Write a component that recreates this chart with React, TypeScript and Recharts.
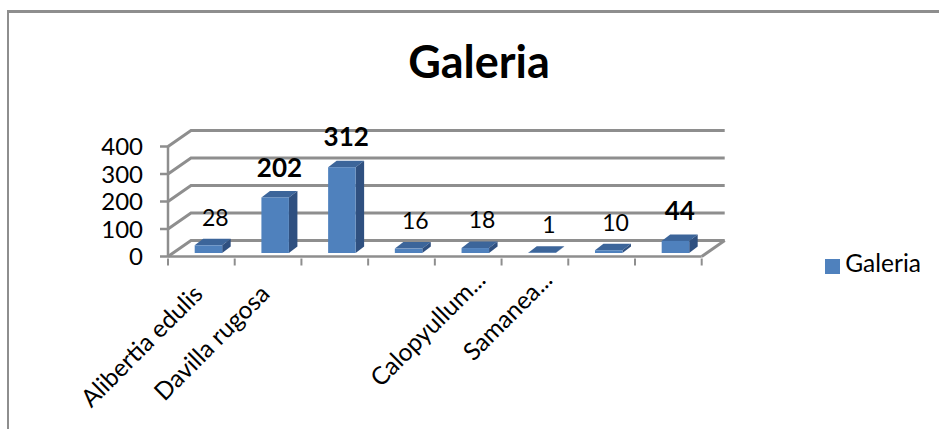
import React from "react";
import { BarChart, Bar, XAxis, YAxis, CartesianGrid, Legend, LabelList } from "recharts";

const categories = ["Alibertia edulis", "Davilla rugosa", "", "", "Calopyullum...", "Samanea...", "", ""];
const values = [28, 202, 312, 16, 18, 1, 10, 44];
const boldValues = [202, 312, 44];
const yTicks = [0, 100, 200, 300, 400];

const chartData = categories.map((name, i) => ({ name, Galeria: values[i] }));

const FONT = "Lato, sans-serif";
const GRID = "#8e8e8e";
const BLUE = "#4f81bd";
const BLUE_TOP = "#3c659a";
const BLUE_SIDE = "#2f5080";

// depth of the floor and walls
const WALL_DX = 23;
const WALL_DY = 16;
// bars stand in the middle of the floor, and have their own depth
const BAR_DX = 6.7;
const BAR_DY = 3.5;
const BOX_DX = 8.5;
const BOX_DY = 6.5;

function WallLine(props: any) {
  const { x1, x2, y1 } = props;
  const isFloor = Math.abs(y1 - 256.5) < 1;
  return (
    <g key={`wall-${y1}`} fill="none" stroke={GRID} strokeWidth={3}>
      <polyline points={`${x1},${y1} ${x1 + WALL_DX},${y1 - WALL_DY} ${x2 + WALL_DX},${y1 - WALL_DY}`} />
      {isFloor && <line x1={x2} y1={y1} x2={x2 + WALL_DX} y2={y1 - WALL_DY} />}
    </g>
  );
}

function Box(props: any) {
  const { x, y, width, height } = props;
  const left = x + BAR_DX;
  const right = left + width;
  const top = y - BAR_DY;
  const bottom = top + height;
  return (
    <g>
      <polygon
        points={`${left},${top} ${left + BOX_DX},${top - BOX_DY} ${right + BOX_DX},${top - BOX_DY} ${right},${top}`}
        fill={BLUE_TOP}
      />
      <polygon
        points={`${right},${top} ${right + BOX_DX},${top - BOX_DY} ${right + BOX_DX},${bottom - BOX_DY} ${right},${bottom}`}
        fill={BLUE_SIDE}
      />
      <rect x={left} y={top} width={width} height={height} fill={BLUE} />
    </g>
  );
}

function ValueLabel(props: any) {
  const { x, y, width, value } = props;
  const bold = boldValues.includes(value);
  return (
    <text
      x={x + width / 2 + (bold ? 11 : 13.5)}
      y={y - (bold ? 31 : 29)}
      textAnchor="middle"
      dominantBaseline="middle"
      fontFamily={FONT}
      fontSize={bold ? 26 : 23}
      fontWeight={bold ? 700 : 400}
      fill="#000"
    >
      {value}
    </text>
  );
}

function CategoryTick(props: any) {
  const { x, y, width, index, payload } = props;
  // tick marks go between the categories, not under them
  const band = width / categories.length;
  const markTop = y - 7;
  // shortened names sit further up the axis
  const cut = String(payload.value).endsWith("...");
  const ax = x + (cut ? 19 : 3);
  const ay = y + (cut ? 16 : 30);
  return (
    <g>
      <line x1={x - band / 2} x2={x - band / 2} y1={markTop} y2={markTop + 7} stroke={GRID} strokeWidth={2} />
      {index === categories.length - 1 && (
        <line x1={x + band / 2} x2={x + band / 2} y1={markTop} y2={markTop + 7} stroke={GRID} strokeWidth={2} />
      )}
      <text
        x={ax}
        y={ay}
        textAnchor="end"
        transform={`rotate(-45 ${ax} ${ay})`}
        fontFamily={FONT}
        fontSize={24.5}
        fill="#000"
      >
        {payload.value}
      </text>
    </g>
  );
}

export default function App() {
  return (
    <div style={{ position: "absolute", left: 0, top: 0, width: 939, height: 429, overflow: "hidden", background: "#fff" }}>
      <div
        style={{
          position: "absolute",
          left: 7,
          top: 10,
          width: 940,
          height: 430,
          borderLeft: `2px solid ${GRID}`,
          borderTop: `3px solid ${GRID}`,
        }}
      />
      <div
        style={{
          position: "absolute",
          left: 300,
          width: 358,
          top: 36,
          textAlign: "center",
          fontFamily: FONT,
          fontWeight: 700,
          fontSize: 45,
          lineHeight: "50px",
          color: "#000",
        }}
      >
        Galeria
      </div>
      <BarChart
        width={939}
        height={429}
        data={chartData}
        margin={{ top: 146.5, right: 107.3, bottom: 82.5, left: 108 }}
        barSize={27.5}
        style={{ position: "absolute", left: 0, top: 0 }}
      >
        <CartesianGrid vertical={false} horizontal={WallLine} />
        <XAxis
          dataKey="name"
          interval={0}
          height={90}
          axisLine={{ stroke: GRID, strokeWidth: 2.5 }}
          tickLine={false}
          tickSize={7}
          tick={CategoryTick}
        />
        <YAxis
          width={60}
          domain={[0, 400]}
          ticks={yTicks}
          interval={0}
          axisLine={{ stroke: GRID, strokeWidth: 2.5 }}
          tickLine={{ stroke: GRID, strokeWidth: 2.5 }}
          tickSize={8}
          tickMargin={17}
          tick={{ fontFamily: FONT, fontSize: 24, fill: "#000" }}
        />
        <Legend
          layout="horizontal"
          verticalAlign="middle"
          align="right"
          iconType="square"
          iconSize={15}
          wrapperStyle={{ position: "absolute", left: 801, top: 246, width: 130, right: "auto", bottom: "auto" }}
          formatter={(value) => (
            <span style={{ fontFamily: FONT, fontSize: 24.5, color: "#000", marginLeft: 1, position: "relative", top: 2 }}>{value}</span>
          )}
        />
        <Bar dataKey="Galeria" fill={BLUE} shape={Box} isAnimationActive={false}>
          <LabelList dataKey="Galeria" content={ValueLabel} />
        </Bar>
      </BarChart>
    </div>
  );
}
